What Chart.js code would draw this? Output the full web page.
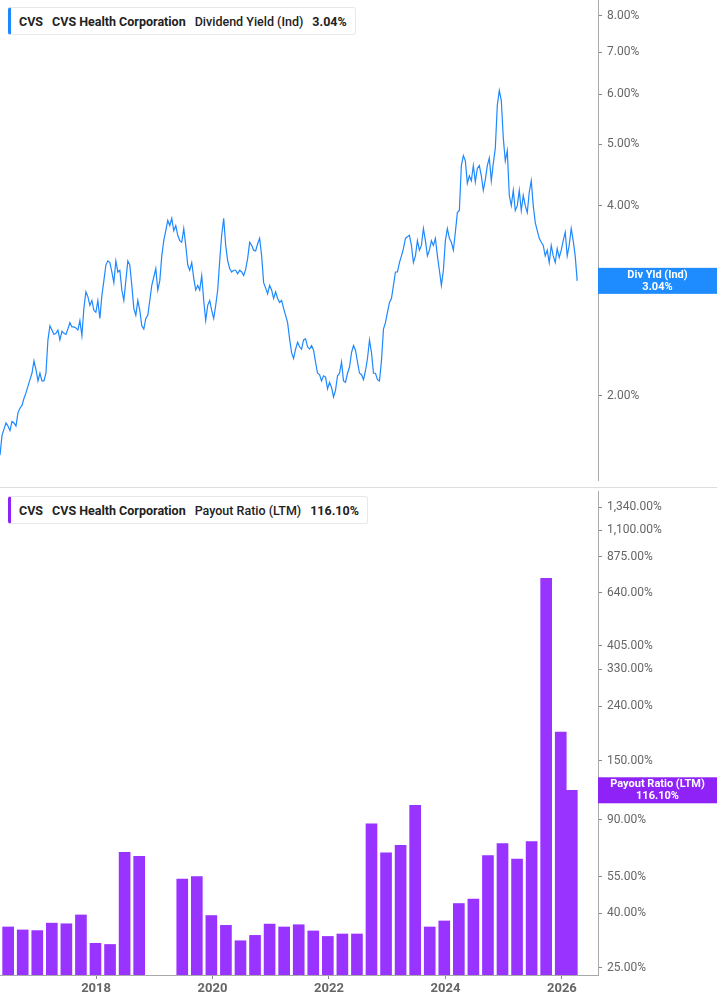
<!DOCTYPE html>
<html>
<head>
<meta charset="utf-8">
<script src="https://cdn.jsdelivr.net/npm/chart.js@4/dist/chart.umd.min.js"></script>
<style>
  body { margin: 0; background: #fff; font-family: Roboto, sans-serif; }
  #wrap { position: relative; width: 717px; height: 1005px; }
  .pane { position: absolute; left: 0; width: 717px; }
  #top { top: 0; height: 487px; }
  #bot { top: 487px; height: 518px; border-top: 1px solid #ddd; box-sizing: border-box; }
  .legend { position: absolute; left: 8px; height: 26px; display: flex; align-items: center; gap: 9px;
    padding: 0 8px; background: #fff; border: 1px solid #e8e8e8; border-radius: 3px; font-size: 12.5px; color: #222; }
  .legend b { font-weight: 700; }
  .legend span { font-weight: 500; }
</style>
</head>
<body>
<div id="wrap">
  <div class="pane" id="top"><canvas id="yieldChart"></canvas></div>
  <div class="pane" id="bot"><canvas id="payoutChart"></canvas></div>
  <div class="legend" style="top:7px;border-left:3px solid #1e88ff"><b>CVS</b><b>CVS Health Corporation</b><span>Dividend Yield (Ind)</span><b>3.04%</b></div>
  <div class="legend" style="top:496px;border-left:3px solid #8f22f7"><b>CVS</b><b>CVS Health Corporation</b><span>Payout Ratio (LTM)</span><b>116.10%</b></div>
</div>
<script>
// dividend yield (%), sampled roughly every 12-13 days from mid 2016
const yieldStart = 2016.35;
const yieldStep = 0.0343;
const yieldValues = [
  1.61, 1.73, 1.77, 1.81, 1.79, 1.76, 1.82, 1.81, 1.79, 1.88, 1.91, 1.93, 1.98, 2.02, 2.07, 2.12,
  2.17, 2.27, 2.20, 2.11, 2.17, 2.11, 2.11, 2.17, 2.45, 2.58, 2.54, 2.50, 2.51, 2.54, 2.45, 2.53,
  2.51, 2.50, 2.55, 2.61, 2.57, 2.57, 2.56, 2.54, 2.63, 2.49, 2.75, 2.92, 2.87, 2.78, 2.83, 2.73,
  2.71, 2.83, 2.65, 2.88, 3.04, 3.22, 3.27, 3.25, 3.14, 3.02, 3.27, 3.14, 3.16, 2.94, 2.83, 3.04,
  3.27, 3.22, 2.99, 2.75, 2.68, 2.83, 2.73, 2.58, 2.55, 2.65, 2.68, 2.83, 2.99, 3.08, 3.18, 2.94,
  3.04, 3.33, 3.52, 3.65, 3.79, 3.72, 3.82, 3.65, 3.72, 3.59, 3.52, 3.50, 3.68, 3.46, 3.22, 3.16,
  3.25, 3.07, 2.94, 2.99, 2.94, 3.10, 2.83, 2.63, 2.78, 2.83, 2.73, 2.65, 2.78, 2.94, 3.27, 3.59,
  3.82, 3.46, 3.27, 3.18, 3.14, 3.16, 3.16, 3.12, 3.16, 3.14, 3.10, 3.17, 3.30, 3.50, 3.46, 3.40,
  3.39, 3.48, 3.55, 3.33, 3.02, 2.96, 2.90, 2.99, 2.94, 2.85, 2.92, 2.85, 2.81, 2.83, 2.75, 2.68,
  2.61, 2.46, 2.34, 2.29, 2.37, 2.43, 2.39, 2.37, 2.45, 2.46, 2.39, 2.37, 2.40, 2.36, 2.26, 2.17,
  2.16, 2.11, 2.15, 2.14, 2.05, 2.10, 2.06, 1.99, 2.04, 2.15, 2.17, 2.26, 2.11, 2.10, 2.17, 2.22,
  2.34, 2.40, 2.36, 2.26, 2.17, 2.16, 2.12, 2.19, 2.29, 2.45, 2.34, 2.17, 2.17, 2.12, 2.11, 2.27,
  2.55, 2.61, 2.71, 2.81, 2.85, 2.99, 3.14, 3.14, 3.25, 3.33, 3.42, 3.55, 3.57, 3.59, 3.46, 3.25,
  3.33, 3.52, 3.40, 3.46, 3.68, 3.52, 3.33, 3.40, 3.52, 3.46, 3.55, 3.33, 3.16, 2.99, 3.16, 3.52,
  3.68, 3.55, 3.50, 3.40, 3.63, 3.90, 3.93, 4.63, 4.80, 4.71, 4.34, 4.46, 4.38, 4.63, 4.36, 4.58,
  4.63, 4.46, 4.23, 4.40, 4.63, 4.76, 4.38, 4.67, 4.93, 5.77, 6.09, 5.87, 5.12, 4.71, 4.89, 4.15,
  4.00, 4.23, 3.93, 4.00, 4.23, 3.93, 4.15, 4.00, 3.90, 4.20, 4.38, 4.00, 3.76, 3.65, 3.55, 3.50,
  3.46, 3.33, 3.40, 3.25, 3.46, 3.33, 3.25, 3.42, 3.31, 3.40, 3.52, 3.63, 3.33, 3.46, 3.68, 3.52,
  3.33, 3.04
];

// quarterly payout ratio (LTM, %)
const payoutDates = [
  2016.49, 2016.74, 2016.99, 2017.24, 2017.49, 2017.74, 2017.99, 2018.24, 2018.49, 2018.74,
  2019.48, 2019.73, 2019.98, 2020.23, 2020.48, 2020.73, 2020.98, 2021.23, 2021.48, 2021.73,
  2021.98, 2022.23, 2022.48, 2022.73, 2022.98, 2023.23, 2023.48, 2023.73, 2023.98, 2024.23,
  2024.48, 2024.73, 2024.98, 2025.23, 2025.48, 2025.73, 2025.98, 2026.17
];
const payoutValues = [
  35.6, 34.7, 34.5, 36.8, 36.6, 39.5, 30.9, 30.6, 67.9, 65.6,
  53.9, 55.1, 39.3, 36.1, 31.6, 33.1, 36.5, 35.6, 36.3, 34.4,
  32.8, 33.5, 33.5, 86.8, 67.6, 72.2, 102, 35.6, 37.5, 43.6,
  45.3, 66.0, 73.2, 64.0, 74.5, 726, 192, 116.1
];

const yearTicks = [2018, 2020, 2022, 2024, 2026];
const yieldTicks = [2, 3, 4, 5, 6, 7, 8];
const payoutTicks = [25, 40, 55, 90, 150, 240, 330, 405, 640, 875, 1100, 1340];

const xMin = 2016.35, xMax = 2026.62;
const AXIS_W = 119;

function lastValueBox(id, color, title, text) {
  return {
    id: id,
    afterDraw(chart) {
      const ds = chart.data.datasets[0].data;
      const y = chart.scales.y.getPixelForValue(ds[ds.length - 1].y);
      const ctx = chart.ctx;
      const left = chart.chartArea.right;
      ctx.save();
      ctx.fillStyle = color;
      ctx.fillRect(left, y - 13, chart.width - left, 26);
      ctx.fillStyle = '#fff';
      ctx.font = 'bold 11px Roboto, sans-serif';
      ctx.textAlign = 'center';
      ctx.textBaseline = 'middle';
      const cx = left + (chart.width - left) / 2;
      ctx.fillText(title, cx, y - 6);
      ctx.fillText(text, cx, y + 6);
      ctx.restore();
    }
  };
}

function yAxis(min, max, ticks, fmt) {
  return {
    type: 'logarithmic',
    position: 'right',
    min: min,
    max: max,
    afterBuildTicks(scale) { scale.ticks = ticks.map(v => ({ value: v })); },
    afterFit(scale) { scale.width = AXIS_W; scale.paddingTop = 0; scale.paddingBottom = 0; },
    border: { color: '#aaa' },
    grid: { drawOnChartArea: false, tickLength: 4, color: '#888' },
    ticks: { color: '#666', font: { size: 12, family: 'Roboto' }, padding: 5, callback: fmt }
  };
}

new Chart(document.getElementById('yieldChart'), {
  type: 'line',
  data: {
    datasets: [{
      data: yieldValues.map((v, i) => ({ x: yieldStart + i * yieldStep, y: v })),
      borderColor: '#1e88ff',
      borderWidth: 1.2,
      pointRadius: 0,
      tension: 0
    }]
  },
  options: {
    responsive: true,
    maintainAspectRatio: false,
    animation: false,
    layout: { padding: { bottom: 7 } },
    plugins: { legend: { display: false }, tooltip: { enabled: false } },
    scales: {
      x: { type: 'linear', min: xMin, max: xMax, display: false },
      y: yAxis(1.47, 8.47, yieldTicks, v => Number(v).toFixed(2) + '%')
    }
  },
  plugins: [lastValueBox('yieldBox', '#1e8cff', 'Div Yld (Ind)', '3.04%')]
});

new Chart(document.getElementById('payoutChart'), {
  type: 'bar',
  data: {
    datasets: [{
      data: payoutDates.map((d, i) => ({ x: d, y: payoutValues[i] })),
      backgroundColor: '#9933ff',
      barThickness: 11,
      base: 23.5
    }]
  },
  options: {
    responsive: true,
    maintainAspectRatio: false,
    animation: false,
    layout: { padding: { top: 3 } },
    plugins: { legend: { display: false }, tooltip: { enabled: false } },
    scales: {
      x: {
        type: 'linear', min: xMin, max: xMax, offset: false,
        afterBuildTicks(scale) { scale.ticks = yearTicks.map(v => ({ value: v })); },
        afterFit(scale) { scale.height = 30; scale.paddingLeft = 0; scale.paddingRight = 0; },
        border: { color: '#aaa' },
        grid: { drawOnChartArea: false, tickLength: 4, color: '#888', offset: false },
        ticks: { color: '#666', font: { size: 13, weight: 'bold', family: 'Roboto' }, padding: 2, callback: v => String(v) }
      },
      y: yAxis(23.5, 1545, payoutTicks,
        v => Number(v).toLocaleString('en-US', { minimumFractionDigits: 2, maximumFractionDigits: 2 }) + '%')
    }
  },
  plugins: [lastValueBox('payoutBox', '#8f22f7', 'Payout Ratio (LTM)', '116.10%')]
});
</script>
</body>
</html>
